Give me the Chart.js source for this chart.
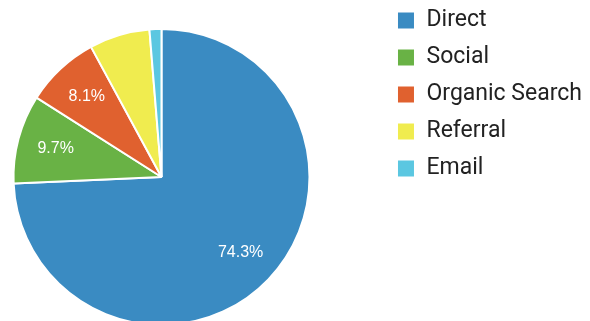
<!DOCTYPE html>
<html>
<head>
<meta charset="utf-8">
<script src="https://cdn.jsdelivr.net/npm/chart.js@4"></script>
<style>
  html, body { margin: 0; padding: 0; background: #fff; }
  body { width: 590px; height: 321px; overflow: hidden; position: relative; }
  #wrap { position: absolute; left: -60px; top: -5px; width: 652px; height: 364px; }
</style>
</head>
<body>
<div id="wrap"><canvas id="chart"></canvas></div>
<script>
const categories = ['Direct', 'Social', 'Organic Search', 'Referral', 'Email'];
const shares = [74.3, 9.7, 8.1, 6.6, 1.3];
const sliceLabels = ['74.3%', '9.7%', '8.1%', '', ''];
const colors = ['#3a8bc2', '#69b245', '#e0612f', '#f0ec4f', '#5bc7e1'];

// percentage text inside the slices
const sliceText = {
  id: 'sliceText',
  afterDatasetsDraw(chart) {
    const ctx = chart.ctx;
    const meta = chart.getDatasetMeta(0);
    ctx.save();
    ctx.font = '16px "Liberation Sans", Arial, sans-serif';
    ctx.fillStyle = '#ffffff';
    ctx.textAlign = 'center';
    ctx.textBaseline = 'middle';
    meta.data.forEach((arc, i) => {
      const text = sliceLabels[i];
      if (!text) return;
      const { x, y, startAngle, endAngle, outerRadius } = arc.getProps(['x', 'y', 'startAngle', 'endAngle', 'outerRadius'], true);
      const mid = (startAngle + endAngle) / 2;
      const d = outerRadius * 0.74;
      ctx.fillText(text, x + Math.cos(mid) * d, y + Math.sin(mid) * d);
    });
    ctx.restore();
  }
};

new Chart(document.getElementById('chart'), {
  type: 'pie',
  data: {
    labels: categories,
    datasets: [{
      data: shares,
      backgroundColor: colors,
      borderColor: '#ffffff',
      borderWidth: 2
    }]
  },
  options: {
    responsive: true,
    maintainAspectRatio: false,
    animation: false,
    radius: 148,
    layout: { padding: 0 },
    plugins: {
      tooltip: { enabled: false },
      legend: {
        position: 'right',
        align: 'start',
        labels: {
          boxWidth: 18,
          boxHeight: 18,
          padding: 14,
          color: '#222222',
          font: { family: 'Roboto', size: 23 }
        }
      }
    }
  },
  plugins: [sliceText]
});
</script>
</body>
</html>
